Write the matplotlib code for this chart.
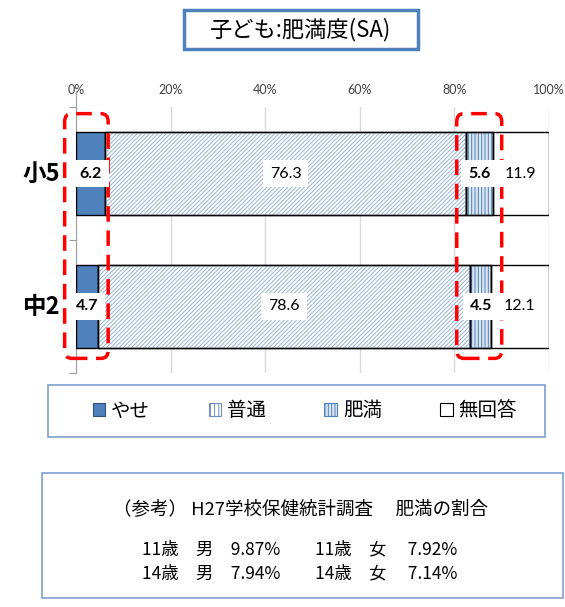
import numpy as np
import matplotlib.pyplot as plt
from matplotlib.patches import Rectangle, FancyBboxPatch, Patch

plt.rcParams['font.family'] = ['Lato', 'Noto Sans CJK JP', 'DejaVu Sans']
plt.rcParams['hatch.linewidth'] = 0.7

# Datos
grupos = ['小5', '中2']
series = ['やせ', '普通', '肥満', '無回答']
valores = {
    'やせ':   [6.2, 4.7],
    '普通':   [76.3, 78.6],
    '肥満':   [5.6, 4.5],
    '無回答': [11.9, 12.1],
}
xticks = [0, 20, 40, 60, 80, 100]

azul = '#4F81BD'
estilos = {
    'やせ':   dict(facecolor=azul, hatch=None, hatchcolor=None),
    '普通':   dict(facecolor='white', hatch='////////', hatchcolor='#95B3D7'),
    '肥満':   dict(facecolor='#DCE6F2', hatch='|||||', hatchcolor='#4F81BD'),
    '無回答': dict(facecolor='white', hatch=None, hatchcolor=None),
}
negrita = {'やせ': True, '普通': False, '肥満': True, '無回答': False}

fig = plt.figure(figsize=(5.65, 6.07), dpi=100)
ax = fig.add_axes([76/565, 1-373/607, 473/565, 266/607])

ypos = np.array([1, 0])
izq = np.zeros(len(grupos))
for s in series:
    st = estilos[s]
    v = np.array(valores[s])
    bars = ax.barh(ypos, v, left=izq, height=0.63, color=st['facecolor'],
                   edgecolor='black', linewidth=1.0, zorder=3)
    if st['hatch']:
        for b in bars:
            ax.add_patch(Rectangle(b.get_xy(), b.get_width(), b.get_height(),
                                   facecolor='none', edgecolor=st['hatchcolor'],
                                   hatch=st['hatch'], linewidth=0, zorder=3.5))
            ax.add_patch(Rectangle(b.get_xy(), b.get_width(), b.get_height(),
                                   facecolor='none', edgecolor='black',
                                   linewidth=1.0, zorder=3.6))
    for i, val in enumerate(v):
        ax.text(izq[i] + val / 2, ypos[i], f'{val:.1f}', ha='center', va='center',
                fontsize=11.5, fontweight='bold' if negrita[s] else 'normal',
                bbox=dict(facecolor='white', edgecolor='none', pad=5), zorder=7)
    izq = izq + v

ax.set_xlim(0, 100)
ax.set_ylim(-0.5, 1.5)
ax.xaxis.tick_top()
ax.set_xticks(xticks)
ax.set_xticklabels([f'{t}%' for t in xticks], fontsize=9, color='#404040')
ax.tick_params(axis='x', length=0, pad=8)
ax.set_yticks([-0.5, 0.5, 1.5])
ax.set_yticklabels([])
ax.tick_params(axis='y', length=5, color='#A0A0A0', direction='out')
ax.grid(axis='x', color='#D9D9D9', linewidth=1.0, zorder=0)
for sp in ['top', 'right', 'bottom']:
    ax.spines[sp].set_visible(False)
ax.spines['left'].set_color('#A0A0A0')
ax.spines['left'].set_bounds(-0.5, 1.62)

for i, g in enumerate(grupos):
    ax.text(-3.3, ypos[i], g, ha='right', va='center', fontsize=17,
            fontweight='bold', family=['Noto Sans CJK JP'])

# Recuadros rojos discontinuos
for x0, x1 in [(-2.4, 6.8), (80.5, 90.0)]:
    caja = FancyBboxPatch((x0, -0.39), x1 - x0, 1.84,
                          boxstyle='round,pad=0,rounding_size=1.5',
                          mutation_aspect=0.04,
                          facecolor='none', edgecolor='#FF0000',
                          linewidth=2.5, linestyle=(0, (4.5, 2.5)),
                          clip_on=False, zorder=6)
    ax.add_patch(caja)

# Titulo
fig.patches.append(Rectangle((184/565, 1-49/607), 234/565, 39/607,
                             transform=fig.transFigure, facecolor='white',
                             edgecolor=azul, linewidth=2.5))
fig.text(301/565, 1-30/607, '子ども:肥満度(SA)', ha='center', va='center',
         fontsize=16, family=['Noto Sans CJK JP'])

# Leyenda
fig.patches.append(Rectangle((48/565, 1-437/607), 497/565, 52/607,
                             transform=fig.transFigure, facecolor='white',
                             edgecolor='#7F9FCF', linewidth=1.2))
handles = [
    Patch(facecolor=azul, edgecolor='#2F4F7F', linewidth=0.8, label=series[0]),
    Patch(facecolor='white', edgecolor='#6F8FC0', hatch='||||', linewidth=0.8,
          label=series[1]),
    Patch(facecolor='#DCE6F2', edgecolor='#4F81BD', hatch='|||||', linewidth=0.8,
          label=series[2]),
    Patch(facecolor='white', edgecolor='black', linewidth=0.8, label=series[3]),
]
fig.legend(handles=handles, ncol=4, loc='center', frameon=False,
           bbox_to_anchor=(305/565, 1-411/607),
           prop={'family': 'Noto Sans CJK JP', 'size': 14},
           handlelength=0.65, handleheight=0.65, handletextpad=0.3,
           columnspacing=3.0)

# Recuadro de referencia
fig.patches.append(Rectangle((42/565, 1-598/607), 521/565, 125/607,
                             transform=fig.transFigure, facecolor='white',
                             edgecolor='#7F9FCF', linewidth=1.2))
ref = dict(ha='center', va='center', fontsize=12.5,
           family=['Noto Sans CJK JP'])
fig.text(301/565, 1-509/607, '（参考） H27学校保健統計調査　 肥満の割合',
         **{**ref, 'fontsize': 13.3})
fig.text(300/565, 1-549/607, '11歳　男　9.87%　　11歳　女　 7.92%', **ref)
fig.text(300/565, 1-573/607, '14歳　男　7.94%　　14歳　女　 7.14%', **ref)

fig.savefig('out.png', dpi=100)
